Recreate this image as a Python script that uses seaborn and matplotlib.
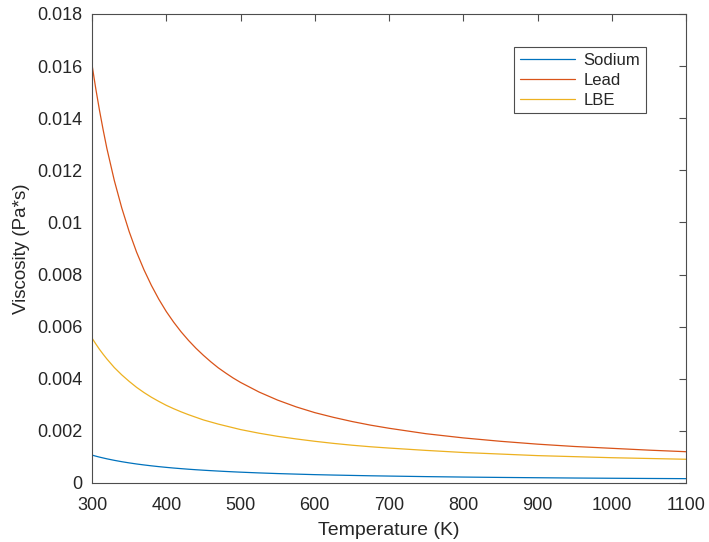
import pandas as pd
import matplotlib
matplotlib.use('Agg')
import matplotlib.pyplot as plt
import seaborn as sns

# Liquid metal viscosity vs temperature
temperature = [300, 305, 310, 315, 320, 330, 340, 350, 360, 370, 380, 390, 400,
               410, 420, 430, 440, 450, 460, 470, 480, 490, 500, 525, 550, 575,
               600, 625, 650, 675, 700, 750, 800, 850, 900, 950, 1000, 1050, 1100]
sodium = [0.00107, 0.00103, 0.000993, 0.00096, 0.000927, 0.000869, 0.000817, 0.000771,
          0.000729, 0.000692, 0.000658, 0.000627, 0.000599,
          0.000573, 0.00055, 0.000528, 0.000508, 0.00049, 0.000473, 0.000457, 0.000442,
          0.000428, 0.000415, 0.000386, 0.000361, 0.00034,
          0.00032, 0.000304, 0.00029, 0.000276, 0.000265, 0.000244, 0.000227, 0.000213,
          0.000201, 0.00019, 0.000181, 0.000173, 0.000166]
lead = [0.01605, 0.01514, 0.01431, 0.01355, 0.01284, 0.01161, 0.01056, 0.00965,
        0.00886, 0.00818, 0.00758, 0.00705, 0.00658,
        0.00617, 0.0058, 0.00547, 0.00517, 0.0049, 0.00465, 0.00442, 0.00422,
        0.00403, 0.00386, 0.00349, 0.00318, 0.00292,
        0.0027, 0.00252, 0.00236, 0.00222, 0.0021, 0.00189, 0.00173, 0.0016,
        0.00149, 0.0014, 0.00133, 0.00126, 0.0012]
lbe = [0.00556, 0.00534, 0.00513, 0.00494, 0.00476, 0.00443, 0.00415, 0.0039,
       0.00367, 0.00347, 0.00329, 0.00313, 0.00298,
       0.00285, 0.00273, 0.00262, 0.00252, 0.00242, 0.00234, 0.00226, 0.00219,
       0.00212, 0.00205, 0.00191, 0.00179, 0.00169,
       0.0016, 0.00152, 0.00145, 0.00139, 0.00134, 0.00125, 0.00117, 0.00111,
       0.00105, 0.00101, 0.00097, 0.00094, 0.00091]
names = ['Sodium', 'Lead', 'LBE']
colors = ['#0072BD', '#D95319', '#EDB120']

df = pd.DataFrame({'T': temperature * 3,
                   'mu': sodium + lead + lbe,
                   'Metal': [n for n in names for _ in temperature]})

sns.set_style('white')
plt.rcParams['font.family'] = ['Liberation Sans', 'DejaVu Sans']

fig = plt.figure(figsize=(7.09, 5.42), dpi=100)
ax = fig.add_axes([0.1298, 0.1089, 0.8378, 0.8653])
sns.lineplot(data=df, x='T', y='mu', hue='Metal', hue_order=names,
             palette=colors, linewidth=0.9, ax=ax)

ax.set_xlim(300, 1100)
ax.set_ylim(0, 0.018)
ax.set_xticks(range(300, 1101, 100))
ax.set_yticks([i * 0.002 for i in range(10)])
ax.set_yticklabels(['0', '0.002', '0.004', '0.006', '0.008', '0.01', '0.012',
                    '0.014', '0.016', '0.018'])
ax.set_xlabel('Temperature (K)', fontsize=14, color='#262626', labelpad=6)
ax.set_ylabel('Viscosity (Pa*s)', fontsize=13.5, color='#262626', labelpad=5)

for s in ax.spines.values():
    s.set_color('#4d4d4d')
    s.set_linewidth(0.8)
    s.set_visible(True)
ax.tick_params(direction='in', length=5, width=0.8, colors='#4d4d4d',
               labelcolor='#262626', labelsize=13, top=True, right=True)
ax.tick_params(axis='x', pad=10)
ax.tick_params(axis='y', pad=7)

leg = ax.legend(loc='upper right', bbox_to_anchor=(0.933, 0.93), fontsize=12,
                frameon=True, fancybox=False, framealpha=1, handlelength=3.3,
                borderpad=0.35, labelspacing=0.3, handletextpad=0.5,
                borderaxespad=0)
leg.get_frame().set_edgecolor('#4d4d4d')
leg.get_frame().set_linewidth(0.8)

fig.savefig('out.png', dpi=100)
